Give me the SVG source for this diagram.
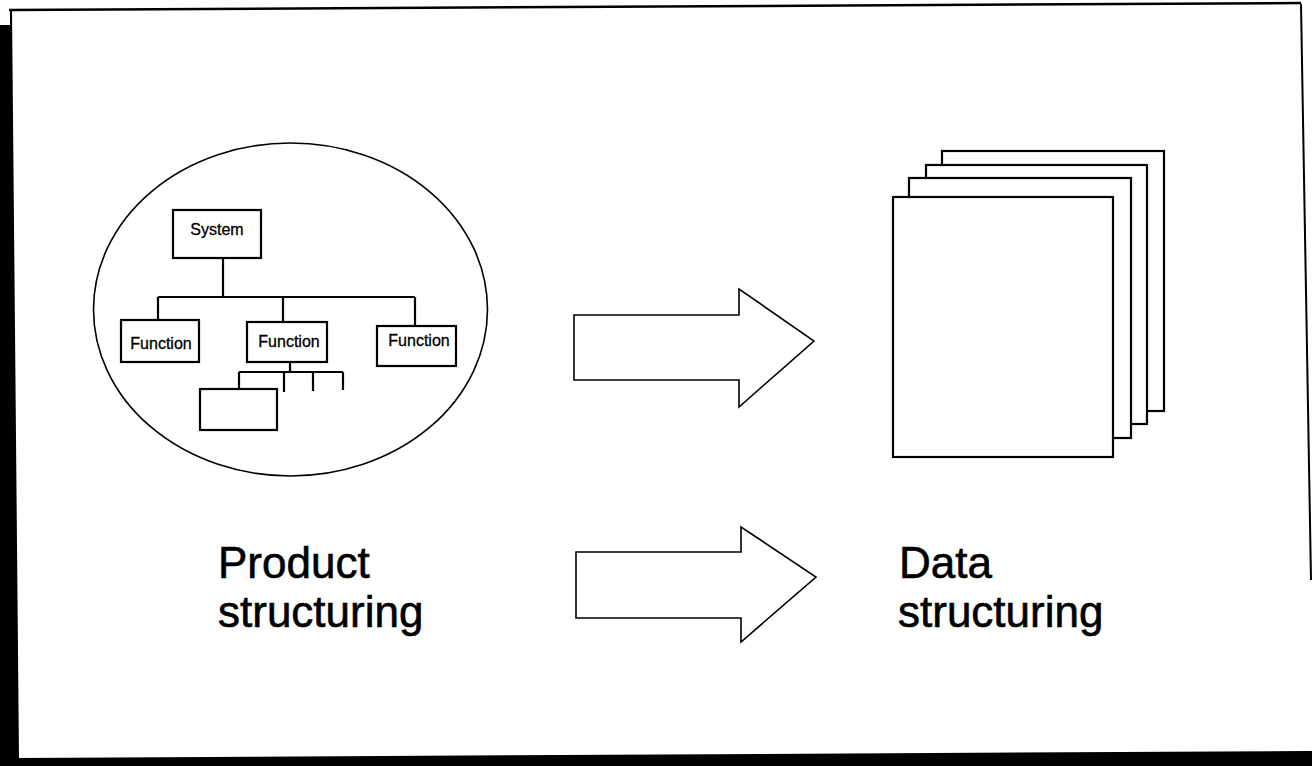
<svg xmlns="http://www.w3.org/2000/svg" width="1312" height="766" viewBox="0 0 1312 766">
<style>
.box{fill:#fff;stroke:#000;stroke-width:2.2}
.ln{fill:none;stroke:#000;stroke-width:2.2}
.thin{fill:#fff;stroke:#000;stroke-width:1.6}
.sm{font-family:"Liberation Sans",Arial,sans-serif;font-size:16px;fill:#000;stroke:#000;stroke-width:0.3}
.lg{font-family:"Liberation Sans",Arial,sans-serif;font-size:44px;fill:#000;stroke:#000;stroke-width:0.6}
</style>
<rect width="1312" height="766" fill="#fff"/>
<g id="frame">
<line x1="9" y1="10" x2="1301" y2="3" stroke="#000" stroke-width="2.5"/>
<polygon points="0,25 10,25 10,10 12,10 19,758 1305,751 1312,751 1312,766 0,766" fill="#000"/>
<line x1="1301" y1="4" x2="1311" y2="580" stroke="#000" stroke-width="2"/>
</g>
<g id="product">
<ellipse cx="290.5" cy="309.5" rx="197" ry="166.5" class="thin"/>
</g>
<g id="connectors">
<path class="ln" d="M223,258 V297 M158,297 H415 M158,297 V320 M283,297 V322 M415,297 V326 M290,362 V372 M239,372 H343 M239,372 V389 M284,372 V392 M313,372 V391 M343,372 V390"/>
</g>
<g id="system">
<rect class="box" x="173" y="210" width="88" height="48"/>
<text class="sm" x="217" y="235" text-anchor="middle">System</text>
</g>
<g id="function1">
<rect class="box" x="121" y="320" width="78" height="42"/>
<text class="sm" x="161" y="349" text-anchor="middle">Function</text>
</g>
<g id="function2">
<rect class="box" x="247" y="322" width="80" height="40"/>
<text class="sm" x="289" y="347" text-anchor="middle">Function</text>
</g>
<g id="function3">
<rect class="box" x="377" y="326" width="79" height="40"/>
<text class="sm" x="419" y="346" text-anchor="middle">Function</text>
</g>
<g id="subfunction">
<rect class="box" x="200" y="389" width="77" height="41"/>
</g>
<g id="arrow1">
<polygon class="thin" points="574,315 739,315 739,289 814,341 739,407 739,380 574,380"/>
</g>
<g id="arrow2">
<polygon class="thin" points="576,552 741,552 741,527 816,577 741,642 741,618 576,618"/>
</g>
<g id="documents">
<rect class="box" x="942" y="151" width="222" height="260"/>
<rect class="box" x="926" y="165" width="221" height="259"/>
<rect class="box" x="909" y="178" width="222" height="260"/>
<rect class="box" x="893" y="197" width="220" height="260"/>
</g>
<g id="labels">
<text class="lg" x="218" y="578">Product</text>
<text class="lg" x="218" y="627">structuring</text>
<text class="lg" x="899" y="578">Data</text>
<text class="lg" x="898" y="627">structuring</text>
</g>
</svg>
